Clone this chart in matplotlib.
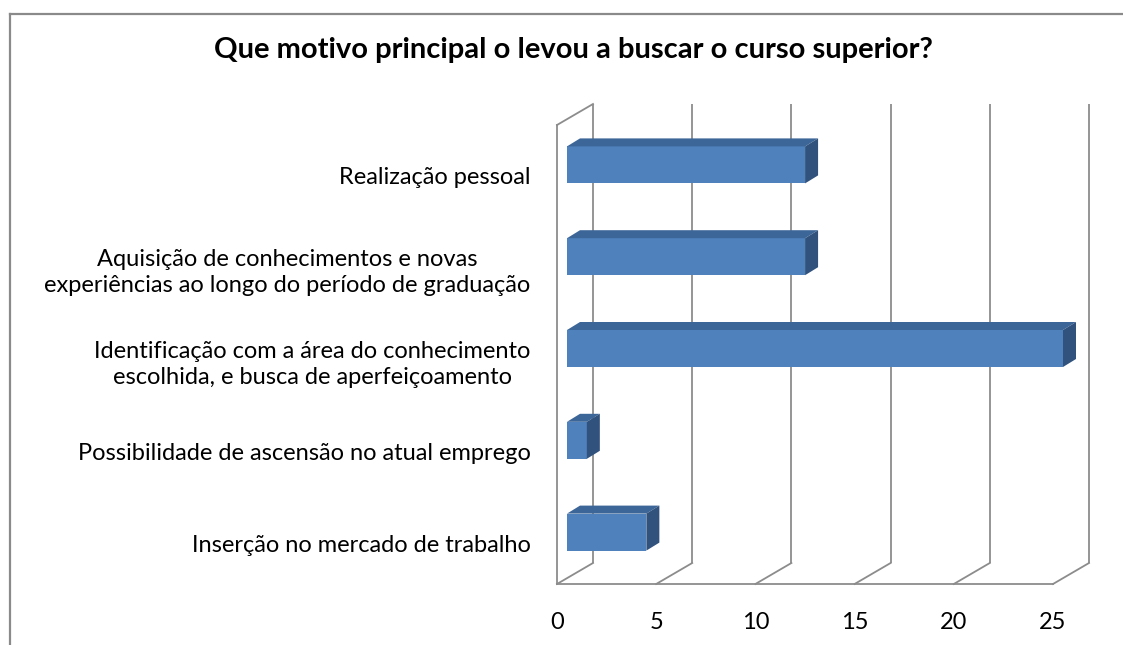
import matplotlib
matplotlib.use('Agg')
import matplotlib.pyplot as plt
from matplotlib.patches import Polygon
from matplotlib.lines import Line2D
from matplotlib.transforms import ScaledTranslation

# ---- data ----
categories = [
    "Inserção no mercado de trabalho",
    "Possibilidade de ascensão no atual emprego",
    "Identificação com a área do conhecimento\nescolhida, e busca de aperfeiçoamento",
    "Aquisição de conhecimentos e novas\nexperiências ao longo do período de graduação",
    "Realização pessoal",
]
values = [4, 1, 25, 12, 12]
x_ticks = [0, 5, 10, 15, 20, 25]
title = "Que motivo principal o levou a buscar o curso superior?"

# ---- style ----
plt.rcParams['font.family'] = ['Lato', 'DejaVu Sans']
W, H = 1123, 645
DPI = 100
fig = plt.figure(figsize=(W / DPI, H / DPI), dpi=DPI)

x0_px, x1_px = 557, 1053      # front floor: 0 .. 25
ytop_px, ybot_px = 125, 584   # front plane top/bottom
ax = fig.add_axes([x0_px / W, (H - ybot_px) / H,
                   (x1_px - x0_px) / W, (ybot_px - ytop_px) / H])
ax.set_xlim(0, 25)
ax.set_ylim(-0.5, len(categories) - 0.5)
for s in ax.spines.values():
    s.set_visible(False)

px_x = (x1_px - x0_px) / 25.0
px_y = (ybot_px - ytop_px) / float(len(categories))
DX, DY = 36 / px_x, 21 / px_y          # wall depth
BF_X, BF_Y = 10 / px_x, 6 / px_y       # bar front offset into depth
BD_X, BD_Y = 13 / px_x, 8 / px_y       # bar depth
bar_h = 37 / px_y

wall_c = '#8c8c8c'
wall_lw = 1.3
ymin, ymax = -0.5, len(categories) - 0.5

# back-wall gridlines
for t in x_ticks:
    ax.plot([t + DX, t + DX], [ymin + DY, ymax + DY], color=wall_c, lw=wall_lw,
            clip_on=False, zorder=1, solid_capstyle='butt')
    ax.plot([t, t + DX], [ymin, ymin + DY], color=wall_c, lw=wall_lw,
            clip_on=False, zorder=1)
# floor front edge
ax.plot([0, x_ticks[-1]], [ymin, ymin], color=wall_c, lw=wall_lw, clip_on=False, zorder=1)
# left side wall
ax.plot([0, 0], [ymin, ymax], color=wall_c, lw=wall_lw, clip_on=False, zorder=1)
ax.plot([0, DX], [ymax, ymax + DY], color=wall_c, lw=wall_lw, clip_on=False, zorder=1)

# bars
front_c = '#4F81BD'
top_c = '#3C6698'
side_c = '#30527D'
ypos = list(range(len(categories)))
yb = [y + BF_Y for y in ypos]
bars = ax.barh(yb, values, left=BF_X, height=bar_h, color=front_c, linewidth=0, zorder=3)
for b in bars:
    b.set_clip_on(False)
for y, v in zip(yb, values):
    top = [(BF_X, y + bar_h / 2), (BF_X + v, y + bar_h / 2),
           (BF_X + v + BD_X, y + bar_h / 2 + BD_Y), (BF_X + BD_X, y + bar_h / 2 + BD_Y)]
    side = [(BF_X + v, y - bar_h / 2), (BF_X + v + BD_X, y - bar_h / 2 + BD_Y),
            (BF_X + v + BD_X, y + bar_h / 2 + BD_Y), (BF_X + v, y + bar_h / 2)]
    ax.add_patch(Polygon(top, closed=True, facecolor=top_c, edgecolor='none',
                         zorder=3, clip_on=False))
    ax.add_patch(Polygon(side, closed=True, facecolor=side_c, edgecolor='none',
                         zorder=3, clip_on=False))

# ticks
ax.set_xticks(x_ticks)
ax.set_xticklabels([str(t) for t in x_ticks], fontsize=17)
ax.set_yticks(ypos)
ax.set_yticklabels(categories, fontsize=17, multialignment='center', linespacing=1.3)
ax.tick_params(axis='x', length=0, pad=20)
ax.tick_params(axis='y', length=0, pad=19)
shift = ScaledTranslation(0, -5 / DPI, fig.dpi_scale_trans)
for lab in ax.get_yticklabels():
    lab.set_transform(lab.get_transform() + shift)

# title
fig.text(573 / W, 1 - 50 / H, title, ha='center', va='center',
         fontsize=21, fontweight='bold', color='black')

# outer chart border (left and top)
border_c = '#8a8a8a'
fig.add_artist(Line2D([9.5 / W, 9.5 / W], [0, 1 - 13.5 / H], transform=fig.transFigure,
                      color=border_c, lw=1.6))
fig.add_artist(Line2D([9.5 / W, 1], [1 - 13.5 / H, 1 - 13.5 / H], transform=fig.transFigure,
                      color=border_c, lw=1.6))

fig.savefig('out.png', dpi=DPI, facecolor='white')
